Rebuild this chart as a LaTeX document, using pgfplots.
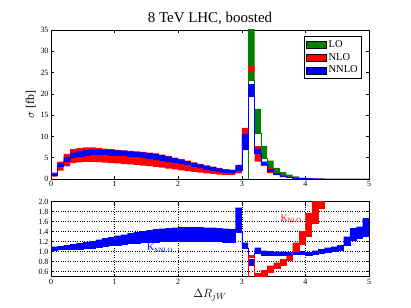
\documentclass[border=0pt]{standalone}
\usepackage{pgfplots}
\pgfplotsset{compat=1.18}
\usepackage{pgfplotstable}
\usepgfplotslibrary{fillbetween}
\usepackage{fontspec}
\setmainfont{Liberation Serif}

\definecolor{mgreen}{RGB}{0,128,0}
\definecolor{mred}{RGB}{255,0,0}
\definecolor{mblue}{RGB}{0,0,255}

% top panel: LO
\pgfplotstableread{
x lo hi
3.0 0 0
3.1 23.3 40
3.2 10.8 16.5
3.3 4.9 7.8
3.4 2.2 4.3
3.5 1.25 2.6
3.6 0.6 1.6
3.7 0.35 1.0
3.8 0.2 0.6
3.9 0.1 0.35
4.0 0.05 0.2
4.1 0.03 0.12
4.2 0.02 0.07
4.3 0.01 0.04
4.4 0.0 0.02
4.5 0.0 0.01
4.6 0.0 0.0
5.0 0.0 0.0
}\tabLO

\pgfplotstableread{
x lo hi
0.0 0.55 1.5
0.1 1.95 4.1
0.2 2.95 5.9
0.3 3.7 7.0
0.4 3.9 7.25
0.5 4.0 7.4
0.6 4.0 7.4
0.7 3.95 7.3
0.8 3.85 7.15
0.9 3.75 7.0
1.0 3.65 6.85
1.1 3.55 6.75
1.2 3.45 6.6
1.3 3.3 6.5
1.4 3.15 6.35
1.5 3.0 6.2
1.6 2.85 6.0
1.7 2.65 5.7
1.8 2.45 5.35
1.9 2.25 5.0
2.0 2.05 4.65
2.1 1.85 4.3
2.2 1.65 3.9
2.3 1.5 3.55
2.4 1.35 3.2
2.5 1.2 2.9
2.6 1.05 2.6
2.7 0.95 2.3
2.8 0.95 2.2
2.9 1.3 2.8
3.0 6.8 12.0
3.1 25.2 26.5
3.2 4.1 7.7
3.3 3.0 4.1
3.4 1.4 2.6
3.5 0.9 1.4
3.6 0.45 0.8
3.7 0.25 0.5
3.8 0.15 0.3
3.9 0.1 0.2
4.0 0.06 0.14
4.1 0.04 0.1
4.2 0.03 0.07
4.3 0.02 0.05
4.4 0.01 0.04
4.5 0.01 0.03
4.6 0.0 0.02
4.7 0.0 0.01
4.8 0.0 0.0
5.0 0.0 0.0
}\tabNLO

\pgfplotstableread{
x lo hi
0.0 0.8 1.35
0.1 2.9 3.7
0.2 4.2 5.1
0.3 5.0 6.2
0.4 5.4 6.6
0.5 5.6 6.8
0.6 5.7 6.9
0.7 5.75 6.9
0.8 5.7 6.85
0.9 5.65 6.8
1.0 5.6 6.75
1.1 5.5 6.65
1.2 5.4 6.5
1.3 5.25 6.4
1.4 5.1 6.25
1.5 4.95 6.1
1.6 4.75 5.9
1.7 4.5 5.6
1.8 4.25 5.25
1.9 3.95 4.9
2.0 3.65 4.55
2.1 3.35 4.2
2.2 3.0 3.8
2.3 2.65 3.45
2.4 2.35 3.1
2.5 2.05 2.8
2.6 1.8 2.5
2.7 1.6 2.2
2.8 1.5 2.1
2.9 2.1 3.3
3.0 7.0 10.6
3.1 19.4 22.3
3.2 6.1 7.1
3.3 3.4 4.0
3.4 1.8 2.3
3.5 1.0 1.3
3.6 0.55 0.75
3.7 0.3 0.45
3.8 0.18 0.28
3.9 0.1 0.18
4.0 0.07 0.12
4.1 0.05 0.09
4.2 0.035 0.06
4.3 0.02 0.04
4.4 0.01 0.03
4.5 0.01 0.02
4.6 0.0 0.01
4.7 0.0 0.01
4.8 0.0 0.0
5.0 0.0 0.0
}\tabNNLO

% bottom panel
\pgfplotstableread{
x lo hi
0.0 1.03 1.10
0.1 1.04 1.11
0.2 1.04 1.13
0.3 1.05 1.15
0.4 1.05 1.17
0.5 1.06 1.19
0.6 1.07 1.21
0.7 1.09 1.24
0.8 1.10 1.27
0.9 1.12 1.29
1.0 1.13 1.32
1.1 1.14 1.34
1.2 1.16 1.37
1.3 1.17 1.39
1.4 1.18 1.41
1.5 1.19 1.43
1.6 1.19 1.45
1.7 1.20 1.46
1.8 1.20 1.47
1.9 1.20 1.48
2.0 1.20 1.49
2.1 1.20 1.49
2.2 1.20 1.49
2.3 1.20 1.49
2.4 1.20 1.48
2.5 1.20 1.48
2.6 1.20 1.47
2.7 1.19 1.46
2.8 1.19 1.45
2.9 1.39 1.88
3.0 1.07 1.18
3.1 0.73 0.85
3.2 0.97 1.08
3.3 0.93 1.02
3.4 0.93 1.01
3.5 0.93 1.00
3.6 0.93 1.00
3.7 0.93 0.99
3.8 0.94 1.00
3.9 0.95 1.01
4.0 0.92 0.99
4.1 0.95 1.02
4.2 0.97 1.05
4.3 0.99 1.08
4.4 1.00 1.10
4.5 1.03 1.13
4.6 1.13 1.30
4.7 1.23 1.47
4.8 1.27 1.50
4.9 1.30 1.67
5.0 1.30 1.67
}\tabKNNLO

\pgfplotstableread{
x lo hi
3.0 0 0
3.1 0.88 0.93
3.2 0.40 0.57
3.3 0.50 0.63
3.4 0.59 0.72
3.5 0.67 0.78
3.6 0.73 0.85
3.7 0.83 0.92
3.8 1.01 1.18
3.9 1.15 1.41
4.0 1.30 1.77
4.1 1.57 2.30
4.2 1.87 2.60
4.3 2.20 3.00
4.4 2.50 3.50
4.5 2.50 3.50
}\tabKNLO

\tikzset{fill between/on layer=main}

\begin{document}
\begin{tikzpicture}
\pgfplotsset{
  every axis/.append style={
    scale only axis,
    width=318bp,
    xmin=0, xmax=5,
    xtick={0,1,2,3,4,5},
    tick align=inside,
    xtick pos=both, ytick pos=both,
    major tick length=3bp,
    axis line style={line width=0.6pt},
    tick style={line width=0.5pt, black},
    tick label style={font=\fontsize{8}{9}\selectfont},
    /pgf/number format/assume math mode=true,
    xticklabel style={yshift=1bp},
    yticklabel style={xshift=1bp},
  },
}
\begin{axis}[
  at={(51bp,129bp)}, anchor=south west,
  height=149bp,
  ymin=0, ymax=35,
  ytick={0,5,10,15,20,25,30,35},
  title={8 TeV LHC, boosted},
  title style={font=\fontsize{15}{17}\selectfont, yshift=-4.5bp},
  ylabel={$\sigma$ [fb]},
  ylabel style={font=\fontsize{12}{13}\selectfont, yshift=-2bp},
  legend style={at={(0.978,0.96)}, anchor=north east, draw=black, line width=0.6pt,
    font=\fontsize{10.5}{12}\selectfont, cells={anchor=west}, row sep=0.5bp,
    inner sep=2bp},
  legend image code/.code={\draw[#1, line width=0.5pt] (0bp,-3.5bp) rectangle (20bp,3.5bp);},
]
\addlegendimage{fill=mgreen, draw=black}
\addlegendentry{LO}
\addlegendimage{fill=mred, draw=black}
\addlegendentry{NLO}
\addlegendimage{fill=mblue, draw=black}
\addlegendentry{NNLO}

% LO
\addplot[const plot, name path=loL, draw=mgreen, line width=0.6pt, forget plot] table[x=x,y=lo]{\tabLO};
\addplot[const plot, name path=loH, draw=none, forget plot] table[x=x,y=hi]{\tabLO};
\addplot[fill=mgreen, draw=none, forget plot] fill between[of=loL and loH];
% NLO
\addplot[const plot, name path=nL, draw=none, forget plot] table[x=x,y=lo]{\tabNLO};
\addplot[const plot, name path=nH, draw=none, forget plot] table[x=x,y=hi]{\tabNLO};
\addplot[fill=mred, draw=none, forget plot] fill between[of=nL and nH];
% NNLO
\addplot[const plot, name path=nnL, draw=mblue, line width=0.5pt, forget plot] table[x=x,y=lo]{\tabNNLO};
\addplot[const plot, name path=nnH, draw=none, forget plot] table[x=x,y=hi]{\tabNNLO};
\addplot[fill=mblue, draw=none, forget plot] fill between[of=nnL and nnH];
\end{axis}

\begin{axis}[
  at={(51bp,31.3bp)}, anchor=south west,
  height=75bp,
  ymin=0.5, ymax=2.0,
  ytick={0.6,0.8,1.0,1.2,1.4,1.6,1.8,2.0},
  yticklabel style={/pgf/number format/.cd, fixed, fixed zerofill, precision=1},
  grid=major,
  major grid style={dotted, black, line width=0.6pt},
  xlabel={$\Delta R_{jW}$},
  xlabel style={font=\fontsize{13}{14}\selectfont, yshift=2bp},
]
\addplot[const plot, name path=kL, draw=mblue, line width=0.5pt] table[x=x,y=lo]{\tabKNNLO};
\addplot[const plot, name path=kH, draw=none] table[x=x,y=hi]{\tabKNNLO};
\addplot[fill=mblue, draw=none] fill between[of=kL and kH];
\addplot[const plot, name path=rL, draw=mred, line width=0.6pt] table[x=x,y=lo]{\tabKNLO};
\addplot[const plot, name path=rH, draw=none] table[x=x,y=hi]{\tabKNLO};
\addplot[fill=mred, draw=none] fill between[of=rL and rH];
\node[text=mblue, font=\fontsize{10}{11}\selectfont, inner sep=0pt] at (axis cs:1.71,1.07) {K\raisebox{-0.35ex}{\fontsize{6.5}{7}\selectfont NNLO}};
\node[text=mred, font=\fontsize{10}{11}\selectfont, inner sep=0pt] at (axis cs:3.77,1.66) {K\raisebox{-0.35ex}{\fontsize{6.5}{7}\selectfont NLO}};
\end{axis}
\path (0,0) rectangle (411bp,308bp);
\end{tikzpicture}
\end{document}
